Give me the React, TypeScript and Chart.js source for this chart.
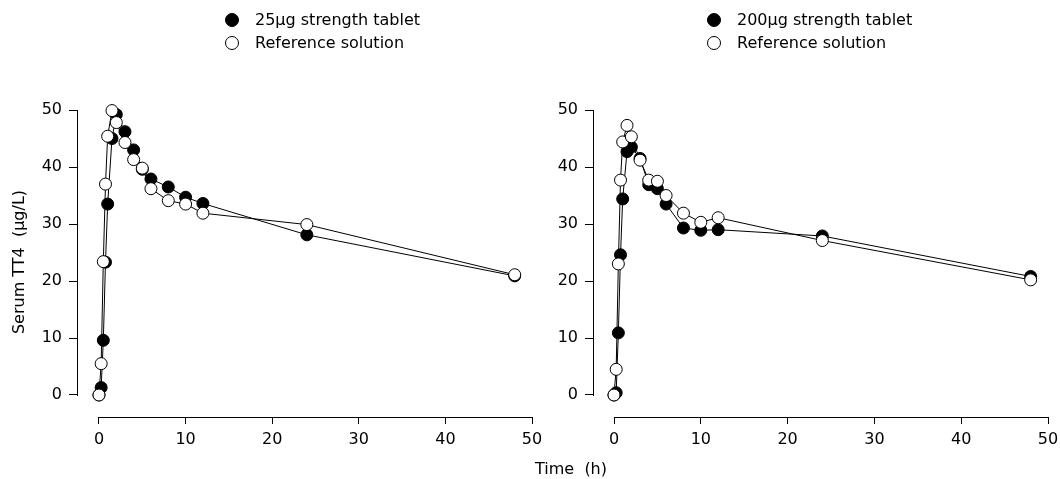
import React, { useEffect, useRef } from 'react';
import { Chart, registerables } from 'chart.js';

Chart.register(...registerables);

// ---- data ----
const TIMES = [0, 0.25, 0.5, 0.75, 1, 1.5, 2, 3, 4, 5, 6, 8, 10, 12, 24, 48];
const TABLET_25 = [0, 1.3, 9.6, 23.3, 33.5, 45.0, 49.2, 46.2, 43.0, 39.6, 37.9, 36.5, 34.7, 33.6, 28.1, 20.9];
const REF_25 = [0, 5.5, 23.4, 37.0, 45.4, 49.9, 47.8, 44.3, 41.3, 39.8, 36.2, 34.1, 33.5, 31.9, 29.9, 21.1];
const TABLET_200 = [0, 0.4, 10.9, 24.6, 34.4, 42.7, 43.5, 41.5, 36.9, 36.2, 33.5, 29.3, 28.9, 29.0, 27.9, 20.8];
const REF_200 = [0, 4.5, 23.0, 37.7, 44.4, 47.3, 45.3, 41.2, 37.7, 37.5, 35.0, 31.9, 30.3, 31.1, 27.1, 20.2];
const X_TICKS = [0, 10, 20, 30, 40, 50];
const Y_TICKS = [0, 10, 20, 30, 40, 50];
const LABEL_TABLET_25 = '25µg strength tablet';
const LABEL_TABLET_200 = '200µg strength tablet';
const LABEL_REF = 'Reference solution';
const X_TITLE = 'Time  (h)';
const Y_TITLE = 'Serum TT4  (µg/L)';

const FONT = "'DejaVu Sans', 'Liberation Sans', Arial, sans-serif";

Chart.defaults.color = '#000';
Chart.defaults.font.family = FONT;
Chart.defaults.font.size = 16;

// Draws R-style axis lines spanning first..last tick
const axisLines = {
  id: 'axisLines',
  afterDraw(chart: any) {
    const { ctx, chartArea, scales } = chart;
    const xs = scales.x;
    const ys = scales.y;
    ctx.save();
    ctx.fillStyle = '#000';
    const by = Math.round(chartArea.bottom);
    const x0 = Math.round(xs.getPixelForValue(X_TICKS[0]));
    const x1 = Math.round(xs.getPixelForValue(X_TICKS[X_TICKS.length - 1]));
    ctx.fillRect(x0, by, x1 - x0 + 1, 1);
    const lx = Math.round(chartArea.left);
    const yTop = Math.round(ys.getPixelForValue(Y_TICKS[Y_TICKS.length - 1]));
    const yBot = Math.round(ys.getPixelForValue(Y_TICKS[0]));
    ctx.fillRect(lx, yTop, 1, yBot - yTop + 1);
    ctx.restore();
  },
};

function series(label: string, values: number[], fill: string, order: number) {
  return {
    label,
    data: TIMES.map((t, i) => ({ x: t, y: values[i] })),
    borderColor: '#000',
    backgroundColor: fill,
    borderWidth: 1,
    pointRadius: 6,
    pointHoverRadius: 6,
    pointBorderWidth: 1,
    pointBorderColor: '#000',
    pointBackgroundColor: fill,
    tension: 0,
    order,
    clip: false,
  };
}

function makeConfig(o: any) {
  return {
    type: 'line',
    data: {
      datasets: [
        series(o.tabletLabel, o.tablet, '#000', 1),
        series(LABEL_REF, o.ref, '#fff', 0),
      ],
    },
    options: {
      responsive: false,
      animation: false,
      events: [],
      layout: { padding: { top: 107, bottom: 0, left: 0, right: 0 } },
      plugins: { legend: { display: false }, tooltip: { enabled: false } },
      scales: {
        x: {
          type: 'linear',
          min: o.xMin,
          max: o.xMax,
          afterBuildTicks: (s: any) => {
            s.ticks = X_TICKS.map((v) => ({ value: v }));
          },
          afterFit: (s: any) => {
            s.height = 62;
          },
          border: { display: false },
          grid: { drawOnChartArea: false, drawTicks: true, tickLength: 7, color: '#000', lineWidth: 1 },
          ticks: { padding: 6, color: '#000', font: { size: 16, family: FONT }, maxRotation: 0, autoSkip: false },
          title: {
            display: o.showXTitle,
            text: X_TITLE,
            align: 'end',
            color: '#000',
            padding: { top: 0, bottom: 0 },
            font: { size: 16, family: FONT },
          },
        },
        y: {
          type: 'linear',
          min: -3.86,
          max: 50.53,
          afterBuildTicks: (s: any) => {
            s.ticks = Y_TICKS.map((v) => ({ value: v }));
          },
          afterFit: (s: any) => {
            s.width = o.yWidth;
          },
          border: { display: false },
          grid: { drawOnChartArea: false, drawTicks: true, tickLength: 8, color: '#000', lineWidth: 1 },
          ticks: { padding: 7, color: '#000', font: { size: 16, family: FONT }, autoSkip: false },
          title: {
            display: o.showYTitle,
            text: Y_TITLE,
            color: '#000',
            padding: { top: 10, bottom: 0 },
            font: { size: 16, family: FONT },
          },
        },
      },
    },
    plugins: [axisLines],
  } as any;
}

function LegendRow({ cx, cy, tx, filled, text }: { cx: number; cy: number; tx: number; filled: boolean; text: string }) {
  return (
    <>
      <div
        style={{
          position: 'absolute',
          left: cx - 7,
          top: cy - 7,
          width: 14,
          height: 14,
          boxSizing: 'border-box',
          border: '1px solid #000',
          borderRadius: '50%',
          background: filled ? '#000' : '#fff',
        }}
      />
      <div
        style={{
          position: 'absolute',
          left: tx,
          top: cy - 11,
          height: 22,
          lineHeight: '22px',
          fontFamily: FONT,
          fontSize: 16,
          color: '#000',
          whiteSpace: 'pre',
        }}
      >
        {text}
      </div>
    </>
  );
}

export default function App() {
  const leftRef = useRef<HTMLCanvasElement>(null);
  const rightRef = useRef<HTMLCanvasElement>(null);

  useEffect(() => {
    const c1 = new Chart(leftRef.current as HTMLCanvasElement, makeConfig({
      tablet: TABLET_25, ref: REF_25, tabletLabel: LABEL_TABLET_25,
      xMin: -2.54, xMax: 58.66, yWidth: 77, showYTitle: true, showXTitle: true,
    }));
    const c2 = new Chart(rightRef.current as HTMLCanvasElement, makeConfig({
      tablet: TABLET_200, ref: REF_200, tabletLabel: LABEL_TABLET_200,
      xMin: -2.42, xMax: 51.38, yWidth: 63, showYTitle: false, showXTitle: false,
    }));
    return () => { c1.destroy(); c2.destroy(); };
  }, []);

  return (
    <div style={{ position: 'absolute', left: 0, top: 0, width: 1060, height: 479, background: '#fff', overflow: 'hidden' }}>
      <canvas ref={leftRef} width={614} height={479} style={{ position: 'absolute', left: 0, top: 0, width: 614, height: 479 }} />
      <canvas ref={rightRef} width={537} height={479} style={{ position: 'absolute', left: 530, top: 0, width: 537, height: 479 }} />
      <LegendRow cx={232} cy={19.5} tx={255} filled={true} text={LABEL_TABLET_25} />
      <LegendRow cx={232} cy={42.5} tx={255} filled={false} text={LABEL_REF} />
      <LegendRow cx={714} cy={19.5} tx={737} filled={true} text={LABEL_TABLET_200} />
      <LegendRow cx={714} cy={42.5} tx={737} filled={false} text={LABEL_REF} />
    </div>
  );
}
